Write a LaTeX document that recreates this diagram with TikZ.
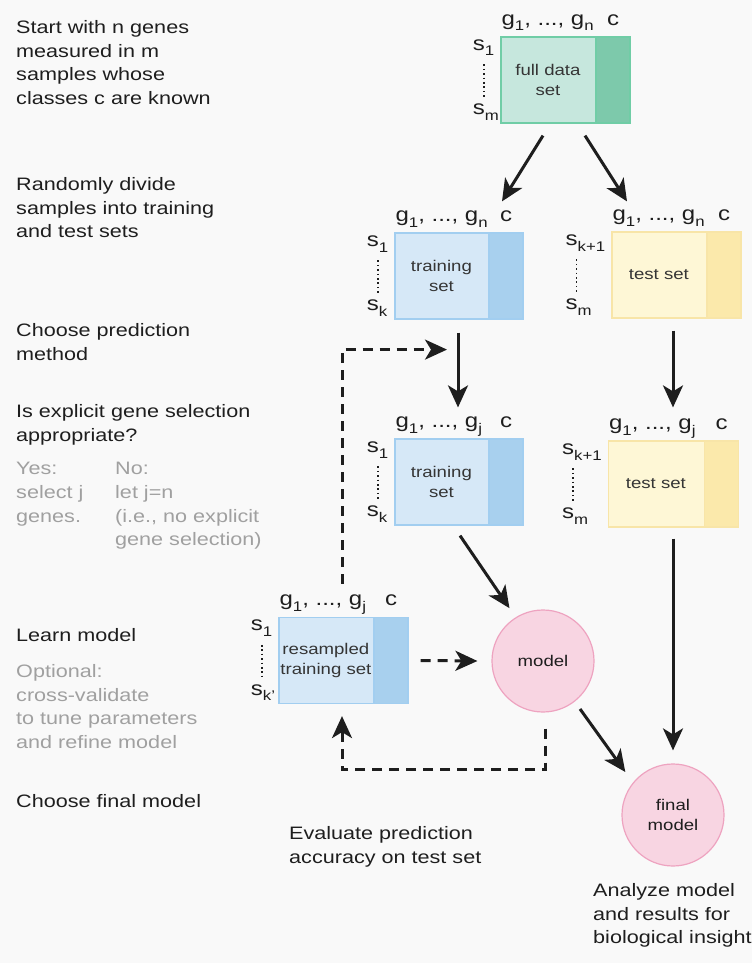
\documentclass[tikz,border=0pt]{standalone}
\usepackage{fontspec}
\setmainfont{Liberation Sans}[FakeStretch=1.2]
\usetikzlibrary{arrows.meta,calc}

\definecolor{bg}{HTML}{F9F9F9}
\definecolor{ink}{HTML}{1E1E1E}
\definecolor{soft}{HTML}{A0A0A0}
\definecolor{greenlight}{HTML}{C6E7DD}
\definecolor{greendark}{HTML}{7DC9AB}
\definecolor{greenline}{HTML}{70CDA6}
\definecolor{bluelight}{HTML}{D6E8F7}
\definecolor{bluedark}{HTML}{A8D0EE}
\definecolor{blueline}{HTML}{A2CEF0}
\definecolor{yellowlight}{HTML}{FEF7D6}
\definecolor{yellowdark}{HTML}{FBE9AB}
\definecolor{yellowline}{HTML}{F8E5A8}
\definecolor{pinkfill}{HTML}{F8D5E2}
\definecolor{pinkline}{HTML}{EEA3C0}

% lowered index in the gene / sample labels
\newcommand\subtx[1]{\raisebox{-0.28em}{\fontsize{14}{14}\selectfont #1}}

% data matrix: light body, darker class column, header and sample labels
% #1 name, #2 centre, #3 width, #4 colour prefix, #5 caption,
% #6 last gene index, #7 first sample index, #8 last sample index
\newcommand\databox[8]{%
  \node[matbox, draw=#4line, fill=#4light, minimum width=#3pt] (#1) at #2 {};
  \node[classcol, draw=#4line, fill=#4dark, anchor=north east] (#1c) at (#1.north east) {};
  \node[boxtxt] (#1t) at ($(#1.west)!0.5!(#1c.west)$) {#5};
  \node[lbl, anchor=base west] (#1g) at ([shift={(1,-11)}]#1.north west) {g\subtx{1}, ..., g\subtx{#6}};
  \node[lbl, anchor=base] (#1k) at ([shift={(0,-11)}]#1c.north) {c};
  \node[lbl, anchor=base east] (#1s) at ([shift={(-6,14)}]#1.north west) {s\subtx{#7}};
  \node[lbl, anchor=base west] (#1e) at ($(#1s.west |- #1.south)+(0,-9)$) {s\subtx{#8}};
  \draw[sampledots] ($(#1s.base west)+(11,14)$) -- ($(#1e.base west)+(11,-16)$);
}

\begin{document}
\begin{tikzpicture}[x=1pt, y=-1pt,
  every node/.style={text=ink},
  matbox/.style={rectangle, minimum height=86pt, inner sep=0pt, line width=1.2pt},
  classcol/.style={rectangle, minimum width=34pt, minimum height=86pt, inner sep=0pt, line width=1.2pt},
  boxtxt/.style={font=\fontsize{15.5}{19.5}\selectfont, align=center, inner sep=0pt, text=ink!90},
  lbl/.style={font=\fontsize{20}{20}\selectfont, inner sep=0pt},
  note/.style={anchor=north west, inner sep=0pt, align=left, font=\fontsize{18}{23.8}\selectfont},
  aside/.style={note, text=soft},
  bubble/.style={circle, minimum size=102pt, inner sep=0pt, draw=pinkline, fill=pinkfill, line width=1.2pt, font=\fontsize{15.5}{19.5}\selectfont, align=center},
  sampledots/.style={line width=1.8pt, dash pattern=on 1.6pt off 2.8pt, ink},
  arr/.style={line width=3pt, ink, -{Stealth[length=22pt, width=20pt, inset=6pt]}},
  dasharr/.style={arr, dash pattern=on 10pt off 7pt}]

\useasboundingbox (0,0) rectangle (752,963);
\fill[bg] (0,0) rectangle (752,963);

% step descriptions on the left
\node[note] (t1) at (16,20) {Start with n genes\\measured in m\\samples whose\\classes c are known};
\node[note] (t2) at (16,177) {Randomly divide\\samples into training\\and test sets};
\node[note] (t3) at (16,323) {Choose prediction\\method};
\node[note] (t4) at (16,404) {Is explicit gene selection\\appropriate?};
\node[aside] (t5) at (16,462) {Yes:\\select j\\genes.};
\node[aside] (t6) at (115,462) {No:\\let j=n\\(i.e., no explicit\\gene selection)};
\node[note] (t7) at (16,628) {Learn model};
\node[aside] (t8) at (16,664) {Optional:\\cross-validate\\to tune parameters\\and refine model};
\node[note] (t9) at (16,794) {Choose final model};
\node[note] (t10) at (289,826) {Evaluate prediction\\accuracy on test set};
\node[note] (t11) at (593,883) {Analyze model\\and results for\\biological insight};

% data matrices
\databox{full}{(565.5,80)}{129}{green}{full data\\set}{n}{1}{m}
\databox{trainA}{(459,276)}{128}{blue}{training\\set}{n}{1}{k}
\databox{testA}{(676.5,275)}{129}{yellow}{test set}{n}{k+1}{m}
\databox{trainB}{(459,482)}{128}{blue}{training\\set}{j}{1}{k}
\databox{testB}{(673.5,484)}{130}{yellow}{test set}{j}{k+1}{m}
\databox{res}{(343.5,660.5)}{129}{blue}{resampled\\training set}{j}{1}{k'}

% models
\node[bubble] (model) at (543,661) {model};
\node[bubble] (final) at (673,815) {final\\model};

% solid flow
\draw[arr] ([shift={(-22.5,12)}]full.south) -- ([shift={(43,-31)}]trainA.north);
\draw[arr] ([shift={(19.5,12)}]full.south) -- ([shift={(-49.5,-30)}]testA.north);
\draw[arr] ([shift={(-1,13)}]trainA.south) -- ([shift={(-1,-31)}]trainB.north);
\draw[arr] ([shift={(-3.5,12)}]testA.south) -- ([shift={(-0.5,-33)}]testB.north);
\draw[arr, shorten >=11pt] ([shift={(1,10)}]trainB.south) -- (model.122);
\draw[arr] ([shift={(-0.5,11)}]testB.south) -- ([shift={(0,-13)}]final.north);
\draw[arr, shorten <=9pt, shorten >=13pt] (model.-52) -- (final.141);

% cross-validation loop
\coordinate (dashend) at ([shift={(-12,30)}]trainA.south);
\draw[dasharr] ([shift={(12,0)}]res.east) -- ([shift={(-14,0)}]model.west);
\draw[dasharr] ([shift={(2,16)}]model.south) -- ++(0,41) -| ([shift={(-1.5,12)}]res.south);
\draw[dasharr] ([shift={(-1.5,-33)}]res.north) |- (dashend);
\end{tikzpicture}
\end{document}
